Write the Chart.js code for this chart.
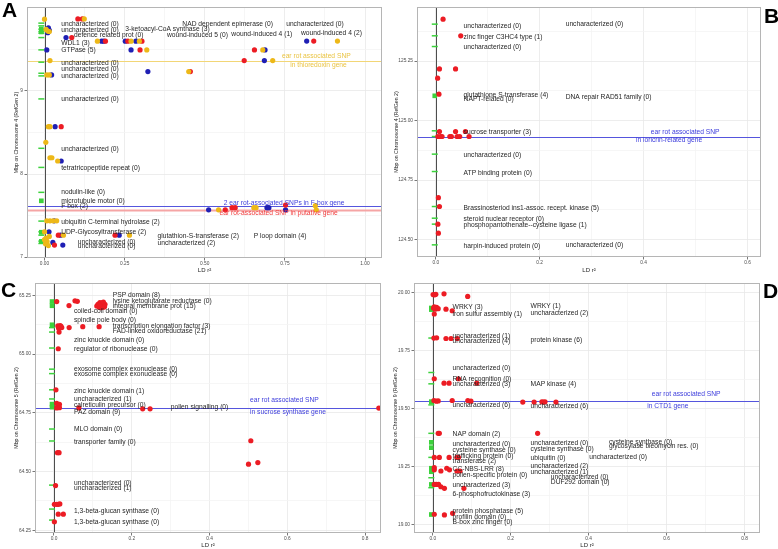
<!DOCTYPE html>
<html>
<head>
<meta charset="utf-8">
<script src="https://cdn.jsdelivr.net/npm/chart.js@4.4.1/dist/chart.umd.min.js"></script>
<style>
  html, body { margin: 0; padding: 0; background: #fff; }
  #wrap { position: relative; width: 778px; height: 549px; overflow: hidden; }
  canvas { position: absolute; }
  .tag { position: absolute; font: bold 21px "Liberation Sans", Arial, sans-serif; color: #000; line-height: 1; }
</style>
</head>
<body>
<div id="wrap">
  <canvas id="cA" width="390" height="275" style="left:0;top:0"></canvas>
  <canvas id="cB" width="388" height="275" style="left:390px;top:0"></canvas>
  <canvas id="cC" width="390" height="274" style="left:0;top:275px"></canvas>
  <canvas id="cD" width="388" height="274" style="left:390px;top:275px"></canvas>
  <div class="tag" style="left:2px;top:-1px">A</div>
  <div class="tag" style="left:764px;top:5px">B</div>
  <div class="tag" style="left:1px;top:279px">C</div>
  <div class="tag" style="left:763px;top:280px">D</div>
</div>
<script>
// ----- Panel A (chromosome 4, three SNPs: red / blue / yellow)
const aXTicks = [0, 0.25, 0.5, 0.75, 1];
const aYTicks = [7, 8, 9];
const aRed = [[0.104, 9.867], [0.118, 9.867], [0.085, 9.642], [0.19, 9.599], [0.26, 9.599], [0.304, 9.599],
  [0.298, 9.494], [0.655, 9.494], [0.84, 9.60], [0.623, 9.365], [0.455, 9.233], [0.052, 8.57],
  [0.043, 7.265], [0.22, 7.265], [0.031, 7.145], [0.564, 7.57], [0.585, 7.595], [0.595, 7.595], [0.752, 7.627]];
const aBlue = [[0.067, 9.642], [0.178, 9.599], [0.185, 9.599], [0.252, 9.599], [0.285, 9.599], [0.27, 9.494],
  [0.688, 9.494], [0.818, 9.60], [0.686, 9.365], [0.3225, 9.233], [0.022, 9.193], [0.033, 8.57],
  [0.052, 8.157], [0.03, 7.437], [0.05, 7.265], [0.233, 7.265], [0.026, 7.177], [0.057, 7.145],
  [0.512, 7.57], [0.694, 7.595], [0.70, 7.595], [0.752, 7.57], [0.007, 9.494], [0.012, 9.76],
  [0.015, 9.73], [0.01, 9.70], [0.014, 7.305]];
const aYellow = [[0.0, 9.864], [0.124, 9.867], [0.165, 9.599], [0.27, 9.599], [0.296, 9.599], [0.319, 9.494],
  [0.681, 9.494], [0.914, 9.60], [0.712, 9.365], [0.017, 9.365], [0.45, 9.233], [0.007, 9.193],
  [0.015, 9.193], [0.012, 8.57], [0.017, 8.57], [0.004, 8.382], [0.017, 8.196], [0.023, 8.196],
  [0.041, 8.157], [0.007, 7.437], [0.017, 7.437], [0.027, 7.437], [0.038, 7.437], [0.0, 7.305],
  [0.059, 7.265], [0.265, 7.265], [0.543, 7.57], [0.653, 7.595], [0.66, 7.595], [0.845, 7.62],
  [0.848, 7.57], [0.005, 9.74], [0.01, 9.72], [0.015, 9.715], [0.005, 7.23], [0.008, 7.19],
  [0.003, 7.16], [0.012, 7.14], [0.0, 7.21], [0.015, 7.25]];
const aGeneLines = [9.816, 9.783, 9.743, 9.715, 9.695, 9.642, 9.494, 9.346, 9.213, 9.181, 8.904, 8.31,
  8.08, 7.78, 7.434, 7.305, 7.265, 7.193, 7.165];
const aGeneBoxes = [9.745, 9.71, 7.678, 7.30, 7.19];
const aGenes = [
  ['uncharacterized (0)', 0.052, 9.807], ['uncharacterized (0)', 0.052, 9.735],
  ['3-ketoacyl-CoA synthase (3)', 0.252, 9.743], ['NAD dependent epimerase (0)', 0.43, 9.807],
  ['uncharacterized (0)', 0.754, 9.807], ['wound-induced 4 (1)', 0.583, 9.683],
  ['wound-induced 4 (2)', 0.80, 9.70], ['defence related prot (0)', 0.092, 9.675],
  ['wound-induced 5 (0)', 0.382, 9.675], ['WDL1 (3)', 0.052, 9.575], ['GTPase (5)', 0.052, 9.486],
  ['uncharacterized (0)', 0.052, 9.334], ['uncharacterized (0)', 0.052, 9.261],
  ['uncharacterized (0)', 0.052, 9.184], ['uncharacterized (0)', 0.052, 8.904],
  ['uncharacterized (0)', 0.052, 8.301], ['tetratricopeptide repeat (0)', 0.052, 8.076],
  ['nodulin-like (0)', 0.052, 7.78], ['microtubule motor (0)', 0.052, 7.675], ['F box (2)', 0.052, 7.614],
  ['ubiquitin C-terminal hydrolase (2)', 0.052, 7.425], ['UDP-Glycosyltransferase (2)', 0.052, 7.305],
  ['uncharacterized (0)', 0.104, 7.184], ['uncharacterized (0)', 0.104, 7.133],
  ['glutathion-S-transferase (2)', 0.3525, 7.257], ['uncharacterized (2)', 0.3525, 7.172],
  ['P loop domain (4)', 0.6525, 7.257]];
const aSnps = [[9.365, 'yellow'], [7.618, 'blue'], [7.566, 'red']];
const aSnpText = [
  ['ear rot associated SNP', 0.848, 9.42, 'center', 'yellow'],
  ['in thioredoxin gene', 0.855, 9.305, 'center', 'yellow'],
  ['2 ear rot-associated SNPs in F-box gene', 0.559, 7.655, 'left', 'blue'],
  ['ear rot-associated SNP in putative gene', 0.546, 7.526, 'left', 'red']];

// ----- Panel B (chromosome 4, loricrin-related gene)
const bXTicks = [0, 0.2, 0.4, 0.6];
const bYTicks = [124.5, 124.75, 125, 125.25];
const bRed = [[0.014, 125.426], [0.048, 125.356], [0.007, 125.217], [0.038, 125.217], [0.0035, 125.178],
  [0.006, 125.111], [0.007, 124.954], [0.038, 124.954], [0.057, 124.954], [0.004, 124.933],
  [0.009, 124.933], [0.012, 124.933], [0.027, 124.933], [0.030, 124.933], [0.041, 124.933],
  [0.046, 124.933], [0.064, 124.933], [0.005, 124.676], [0.007, 124.639], [0.004, 124.565], [0.005, 124.527]];
const bGeneLines = [125.405, 125.356, 125.311, 124.957, 124.933, 124.859, 124.786, 124.639, 124.59, 124.565, 124.478];
const bGeneBoxes = [125.104];
const bGenes = [
  ['uncharacterized (0)', 0.0535, 125.398], ['zinc finger C3HC4 type (1)', 0.0535, 125.35],
  ['uncharacterized (0)', 0.0535, 125.307], ['glutathione S-transferase (4)', 0.0535, 125.105],
  ['NAPT-related (0)', 0.0535, 125.09], ['sucrose transporter (3)', 0.0535, 124.95],
  ['uncharacterized (0)', 0.25, 125.405], ['DNA repair RAD51 family (0)', 0.25, 125.097],
  ['uncharacterized (0)', 0.0535, 124.856], ['ATP binding protein (0)', 0.0535, 124.779],
  ['Brassinosteriod ins1-assoc. recept. kinase (5)', 0.0535, 124.634],
  ['steroid nuclear receptor (0)', 0.0535, 124.586],
  ['phosphopantothenate--cysteine ligase (1)', 0.0535, 124.562],
  ['harpin-induced protein (0)', 0.0535, 124.471], ['uncharacterized (0)', 0.25, 124.478]];
const bSnps = [[124.933, 'blue']];
const bSnpText = [
  ['ear rot associated SNP', 0.48, 124.95, 'center', 'blue'],
  ['in loricrin-related gene', 0.449, 124.919, 'center', 'blue']];

// ----- Panel C (chromosome 5, sucrose synthase gene)
const cXTicks = [0, 0.2, 0.4, 0.6, 0.8];
const cYTicks = [64.25, 64.5, 64.75, 65, 65.25];
const cRed = [[0.007, 65.224], [0.0386, 65.207], [0.054, 65.227], [0.06, 65.225],
  [0.11, 65.205], [0.113, 65.212], [0.116, 65.2], [0.119, 65.215], [0.122, 65.205], [0.125, 65.21],
  [0.128, 65.2], [0.131, 65.212], [0.118, 65.22], [0.124, 65.218], [0.121, 65.198], [0.127, 65.222],
  [0.114, 65.206], [0.13, 65.203], [0.117, 65.208],
  [0.01, 65.12], [0.013, 65.115], [0.016, 65.122], [0.02, 65.113], [0.012, 65.11], [0.018, 65.118],
  [0.039, 65.113], [0.074, 65.117], [0.116, 65.117], [0.013, 65.094], [0.011, 65.023], [0.005, 64.848],
  [0.007, 64.79], [0.014, 64.786], [0.007, 64.771], [0.014, 64.772], [0.064, 64.771], [0.228, 64.767],
  [0.247, 64.767], [0.835, 64.77], [0.506, 64.631], [0.524, 64.538], [0.50, 64.531], [0.009, 64.58],
  [0.013, 64.58], [0.004, 64.44], [0.001, 64.36], [0.007, 64.36], [0.011, 64.36], [0.015, 64.362],
  [0.011, 64.318], [0.024, 64.318], [0.001, 64.286]];
const cGeneLines = [65.113, 65.094, 65.026, 64.936, 64.917, 64.848, 64.809, 64.681, 64.63, 64.442, 64.34, 64.293];
const cGeneBoxes = [65.224, 65.206, 65.125, 64.787, 64.774];
const cGenes = [
  ['PSP domain (8)', 0.151, 65.25], ['lysine ketoglutarate reductase (0)', 0.151, 65.227],
  ['integral membrane prot (15)', 0.151, 65.206], ['coiled-coil domain (0)', 0.0514, 65.185],
  ['spindle pole body (0)', 0.0514, 65.143], ['transcription elongation factor (3)', 0.151, 65.121],
  ['FAD-linked oxidoreductase (21)', 0.151, 65.099], ['zinc knuckle domain (0)', 0.0514, 65.058],
  ['regulator of ribonuclease (0)', 0.0514, 65.023], ['exosome complex exonuclease (0)', 0.0514, 64.936],
  ['exosome complex exonuclease (0)', 0.0514, 64.915], ['zinc knuckle domain (1)', 0.0514, 64.843],
  ['uncharacterized (1)', 0.0514, 64.808], ['calreticulin precursor (0)', 0.0514, 64.784],
  ['PAZ domain (9)', 0.0514, 64.753], ['pollen signalling (0)', 0.3, 64.772],
  ['MLO domain (0)', 0.0514, 64.68], ['transporter family (0)', 0.0514, 64.625],
  ['uncharacterized (0)', 0.0514, 64.45], ['uncharacterized (1)', 0.0514, 64.428],
  ['1,3-beta-glucan synthase (0)', 0.0514, 64.331], ['1,3-beta-glucan synthase (0)', 0.0514, 64.286]];
const cSnps = [[64.772, 'blue']];
const cSnpText = [
  ['ear rot associated SNP', 0.504, 64.805, 'left', 'blue'],
  ['in sucrose synthase gene', 0.504, 64.751, 'left', 'blue']];

// ----- Panel D (chromosome 9, CTD1 gene)
const dXTicks = [0, 0.2, 0.4, 0.6, 0.8];
const dYTicks = [19, 19.25, 19.5, 19.75, 20];
const dRed = [[0.001, 19.993], [0.005, 19.992], [0.008, 19.994], [0.029, 19.996], [0.0897, 19.985],
  [0.002, 19.935], [0.006, 19.93], [0.01, 19.938], [0.014, 19.932], [0.004, 19.94], [0.034, 19.93],
  [0.05, 19.923], [0.004, 19.909], [0.003, 19.805], [0.01, 19.806], [0.034, 19.803], [0.047, 19.803],
  [0.063, 19.803], [0.004, 19.629], [0.029, 19.61], [0.042, 19.61], [0.066, 19.629], [0.113, 19.61],
  [0.003, 19.535], [0.009, 19.532], [0.014, 19.533], [0.05, 19.535], [0.09, 19.535], [0.098, 19.532],
  [0.231, 19.528], [0.26, 19.528], [0.28, 19.529], [0.284, 19.528], [0.288, 19.529], [0.316, 19.528],
  [0.014, 19.393], [0.017, 19.393], [0.269, 19.393], [0.004, 19.289], [0.017, 19.289], [0.042, 19.289],
  [0.062, 19.289], [0.066, 19.289], [0.004, 19.245], [0.004, 19.235], [0.021, 19.23], [0.036, 19.242],
  [0.043, 19.235], [0.062, 19.23], [0.07, 19.23], [0.004, 19.172], [0.009, 19.172], [0.015, 19.172],
  [0.021, 19.162], [0.03, 19.155], [0.08, 19.155], [0.004, 19.043], [0.03, 19.04], [0.051, 19.047]];
const dGeneLines = [19.805, 19.656, 19.607, 19.516, 19.393, 19.289, 19.201, 19.158];
const dGeneBoxes = [19.935, 19.928, 19.53, 19.354, 19.331, 19.242, 19.227, 19.172, 19.042];
const dGenes = [
  ['WRKY (3)', 0.051, 19.938], ['iron sulfur assembly (1)', 0.051, 19.909],
  ['WRKY (1)', 0.251, 19.942], ['uncharacterized (2)', 0.251, 19.913],
  ['uncharacterized (1)', 0.051, 19.815], ['uncharacterized (4)', 0.051, 19.793],
  ['protein kinase (6)', 0.251, 19.798], ['uncharacterized (0)', 0.051, 19.675],
  ['RNA recognition (0)', 0.051, 19.627], ['uncharacterized (3)', 0.051, 19.606],
  ['MAP kinase (4)', 0.251, 19.607], ['uncharacterized (6)', 0.051, 19.516],
  ['uncharacterized (6)', 0.251, 19.509], ['NAP domain (2)', 0.051, 19.39],
  ['uncharacterized (0)', 0.051, 19.347], ['cysteine synthase (0)', 0.051, 19.321],
  ['trafficking protein (0)', 0.051, 19.296], ['transferase (2)', 0.051, 19.273],
  ['CC-NBS-LRR (8)', 0.051, 19.237], ['pollen-specific protein (0)', 0.051, 19.21],
  ['uncharacterized (3)', 0.051, 19.169], ['6-phosphofructokinase (3)', 0.051, 19.13],
  ['protein phosphatase (5)', 0.051, 19.057], ['profilin domain (0)', 0.051, 19.032],
  ['B-box zinc finger (0)', 0.051, 19.01], ['uncharacterized (0)', 0.251, 19.35],
  ['cysteine synthase (0)', 0.251, 19.325], ['ubiquitin (0)', 0.251, 19.285],
  ['uncharacterized (2)', 0.251, 19.249], ['uncharacterized (1)', 0.251, 19.224],
  ['uncharacterized (0)', 0.303, 19.203], ['DUF292 domain (0)', 0.303, 19.18],
  ['cysteine synthase (0)', 0.452, 19.353], ['glycosylase bleomycin res. (0)', 0.452, 19.338],
  ['uncharacterized (0)', 0.4015, 19.289]];
const dSnps = [[19.533, 'blue']];
const dSnpText = [
  ['ear rot associated SNP', 0.65, 19.562, 'center', 'blue'],
  ['in CTD1 gene', 0.603, 19.51, 'center', 'blue']];

// ----- styles
const RED = '#EC1C24', BLUE = '#1F1FB4', YELLOW = '#EDB818', GREEN = '#3CD23C';
const SNP_LINE = { yellow: '#F2D676', blue: '#5555DD', red: '#F5A5A5' };
const SNP_TEXT = { yellow: '#EAC443', blue: '#3C3CDC', red: '#F03A3A' };
const FONT = '"Liberation Sans", Arial, sans-serif';

const decor = {
    id: 'decor',
    beforeDatasetsDraw(chart, _args, o) {
        const { ctx, chartArea: a, scales: { x, y } } = chart;
        ctx.save();
        o.snps.forEach(([v, c]) => {
            const py = Math.round(y.getPixelForValue(v)) + 0.5;
            ctx.strokeStyle = SNP_LINE[c];
            ctx.lineWidth = c === 'red' ? 2.2 : 1;
            ctx.beginPath(); ctx.moveTo(a.left, py); ctx.lineTo(a.right, py); ctx.stroke();
        });
        const px = Math.round(x.getPixelForValue(0)) + 0.5;
        ctx.strokeStyle = '#4d4d4d'; ctx.lineWidth = 1;
        ctx.beginPath(); ctx.moveTo(px, a.top); ctx.lineTo(px, a.bottom); ctx.stroke();
        ctx.restore();
    },
    afterDatasetsDraw(chart, _args, o) {
        const { ctx, chartArea: a, scales: { x, y } } = chart;
        ctx.save();
        ctx.font = '6.7px ' + FONT;
        ctx.textBaseline = 'middle';
        ctx.textAlign = 'left';
        ctx.fillStyle = '#262626';
        o.genes.forEach(([t, gx, gy]) => ctx.fillText(t, x.getPixelForValue(gx), y.getPixelForValue(gy)));
        o.snpText.forEach(([t, tx, ty, al, c]) => {
            ctx.textAlign = al;
            ctx.fillStyle = SNP_TEXT[c];
            ctx.fillText(t, x.getPixelForValue(tx), y.getPixelForValue(ty));
        });
        ctx.strokeStyle = '#B5B5B5'; ctx.lineWidth = 1;
        ctx.strokeRect(a.left + 0.5, a.top + 0.5, a.right - a.left - 1, a.bottom - a.top - 1);
        ctx.restore();
    }
};

function withMinors(majors, lo, hi) {
    const step = majors[1] - majors[0];
    const out = [];
    for (let i = -1; i < majors.length; i++) {
        const m = (i < 0 ? majors[0] - step : majors[i]) + step / 2;
        if (m > lo && m < hi) out.push(m);
    }
    return majors.concat(out).sort((p, q) => p - q);
}

function axis(p, majors, fmt, size, title, titlePad) {
    const isMajor = v => majors.some(m => Math.abs(m - v) < 1e-9);
    return {
        type: 'linear',
        position: p.pos,
        min: p.min, max: p.max,
        afterBuildTicks: s => { s.ticks = withMinors(majors, p.min, p.max).map(v => ({ value: v })); },
        afterFit: s => { if (p.pos === 'left') s.width = size; else s.height = size; },
        grid: {
            color: c => (c.tick && isMajor(c.tick.value)) ? '#E8E8E8' : '#F4F4F4',
            tickColor: c => (c.tick && isMajor(c.tick.value)) ? '#555' : 'rgba(0,0,0,0)',
            lineWidth: 0.8, tickLength: 2.5
        },
        border: { display: false },
        ticks: {
            autoSkip: false, maxRotation: 0, padding: p.pos === 'left' ? 1.5 : 0,
            color: '#4D4D4D', font: { family: FONT, size: 4.8 },
            callback: v => isMajor(v) ? fmt(v) : ''
        },
        title: {
            display: true, text: title, color: '#222',
            font: { family: FONT, size: p.pos === 'left' ? 5.2 : 6 },
            padding: p.pos === 'left' ? { top: titlePad, bottom: 0 } : { top: 0, bottom: titlePad }
        }
    };
}

function panel(id, d) {
    const pts = arr => arr.map(([x, y]) => ({ x, y }));
    const datasets = [
        { data: d.geneLines.map(y => ({ x: d.geneX, y })), pointStyle: 'line', pointRadius: 3,
          pointBorderColor: GREEN, pointBorderWidth: 1.5, order: 6 },
        { data: d.geneBoxes.map(y => ({ x: d.geneX, y })), pointStyle: 'rect', pointRadius: 3.3,
          pointBackgroundColor: GREEN, pointBorderWidth: 0, order: 5 }
    ];
    d.series.forEach(([arr, col, ord]) => datasets.push({
        data: pts(arr), pointRadius: 2.6, pointBackgroundColor: col, pointBorderWidth: 0, order: ord
    }));
    new Chart(document.getElementById(id), {
        type: 'scatter',
        data: { datasets },
        plugins: [decor],
        options: {
            responsive: false, animation: false, events: [],
            layout: { padding: d.pad },
            plugins: {
                legend: { display: false }, tooltip: { enabled: false },
                decor: { snps: d.snps, genes: d.genes, snpText: d.snpText }
            },
            scales: {
                x: axis({ pos: 'bottom', min: d.x[0], max: d.x[1] }, d.xTicks, d.xFmt, d.xH, 'LD r²', d.xTitlePad),
                y: axis({ pos: 'left', min: d.y[0], max: d.y[1] }, d.yTicks, d.yFmt, d.yW, d.yTitle, d.yTitlePad)
            }
        }
    });
}

panel('cA', {
    x: [-0.0547, 1.053], y: [6.99, 10.01], xTicks: aXTicks, yTicks: aYTicks,
    xFmt: v => v.toFixed(2), yFmt: v => String(v),
    pad: { top: 7, right: 8, left: 0, bottom: 0 }, yW: 27, xH: 17, xTitlePad: 1.4, yTitlePad: 13.6,
    yTitle: 'Mbp on Chromosome 4 (RefGen 2)', geneX: -0.01,
    geneLines: aGeneLines, geneBoxes: aGeneBoxes,
    series: [[aBlue, BLUE, 3], [aRed, RED, 2], [aYellow, YELLOW, 1]],
    snps: aSnps, genes: aGenes, snpText: aSnpText
});
panel('cB', {
    x: [-0.0362, 0.626], y: [124.427, 125.477], xTicks: bXTicks, yTicks: bYTicks,
    xFmt: v => v.toFixed(1), yFmt: v => v.toFixed(2),
    pad: { top: 7, right: 17, left: 0, bottom: 0 }, yW: 27, xH: 18, xTitlePad: 1.4, yTitlePad: 3.6,
    yTitle: 'Mbp on Chromosome 4 (RefGen 2)', geneX: -0.002,
    geneLines: bGeneLines, geneBoxes: bGeneBoxes,
    series: [[bRed, RED, 2]],
    snps: bSnps, genes: bGenes, snpText: bSnpText
});
panel('cC', {
    x: [-0.0488, 0.8406], y: [64.238, 65.303], xTicks: cXTicks, yTicks: cYTicks,
    xFmt: v => v.toFixed(1), yFmt: v => v.toFixed(2),
    pad: { top: 8, right: 9, left: 0, bottom: 0 }, yW: 35, xH: 16, xTitlePad: 0, yTitlePad: 13.6,
    yTitle: 'Mbp on Chromosome 5 (RefGen 2)', geneX: -0.005,
    geneLines: cGeneLines, geneBoxes: cGeneBoxes,
    series: [[cRed, RED, 2]],
    snps: cSnps, genes: cGenes, snpText: cSnpText
});
panel('cD', {
    x: [-0.048, 0.8393], y: [18.962, 20.043], xTicks: dXTicks, yTicks: dYTicks,
    xFmt: v => v.toFixed(1), yFmt: v => v.toFixed(2),
    pad: { top: 8, right: 18, left: 0, bottom: 0 }, yW: 24, xH: 16, xTitlePad: 0, yTitlePad: 2.2,
    yTitle: 'Mbp on Chromosome 9 (RefGen 2)', geneX: -0.0036,
    geneLines: dGeneLines, geneBoxes: dGeneBoxes,
    series: [[dRed, RED, 2]],
    snps: dSnps, genes: dGenes, snpText: dSnpText
});
</script>
</body>
</html>
